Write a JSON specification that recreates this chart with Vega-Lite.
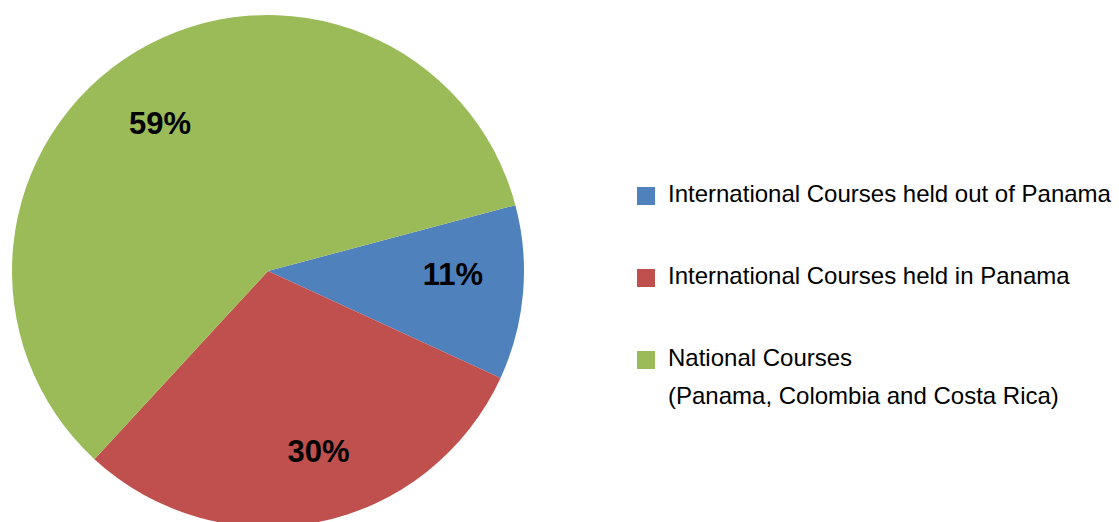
{
  "$schema": "https://vega.github.io/schema/vega-lite/v6.json",
  "width": 536,
  "height": 522,
  "padding": {"left": 0, "top": 0, "right": 583, "bottom": 0},
  "autosize": {"type": "none"},
  "background": "white",
  "data": {
    "values": [
      {"category": "International Courses held out of Panama", "value": 11, "rank": 1, "label": "11%"},
      {"category": "International Courses held in Panama", "value": 30, "rank": 2, "label": "30%"},
      {"category": "National Courses (Panama, Colombia and Costa Rica)", "value": 59, "rank": 3, "label": "59%"}
    ]
  },
  "encoding": {
    "theta": {"field": "value", "type": "quantitative", "stack": true, "scale": {"range": [1.3107, 7.5939]}},
    "order": {"field": "rank", "type": "quantitative"}
  },
  "layer": [
    {
      "mark": {"type": "arc", "outerRadius": 256, "yOffset": 10},
      "encoding": {
        "color": {
          "field": "category",
          "type": "nominal",
          "scale": {
            "domain": ["International Courses held out of Panama", "International Courses held in Panama", "National Courses (Panama, Colombia and Costa Rica)"],
            "range": ["#4F81BD", "#C0504D", "#9BBB59"]
          },
          "legend": {
            "title": null,
            "orient": "none",
            "legendX": 634,
            "legendY": 184,
            "padding": 0,
            "symbolType": "square",
            "symbolSize": 324,
            "symbolStrokeWidth": 0,
            "symbolOpacity": 1,
            "labelFont": "Liberation Sans",
            "labelFontSize": 24,
            "labelColor": "#000000",
            "labelOffset": 10,
            "labelLimit": 700,
            "labelBaseline": "alphabetic",
            "rowPadding": 58,
            "labelExpr": "datum.label == 'National Courses (Panama, Colombia and Costa Rica)' ? ['National Courses', '(Panama, Colombia and Costa Rica)'] : datum.label"
          }
        }
      }
    },
    {
      "mark": {"type": "text", "radius": 185, "thetaOffset": -0.08, "dy": 14, "font": "Liberation Sans", "fontSize": 31, "fontWeight": "bold", "color": "#000000"},
      "encoding": {
        "text": {"field": "label", "type": "nominal"}
      }
    }
  ],
  "config": {
    "view": {"stroke": null},
    "style": {"guide-label": {"lineHeight": 38, "dy": 6}}
  }
}
